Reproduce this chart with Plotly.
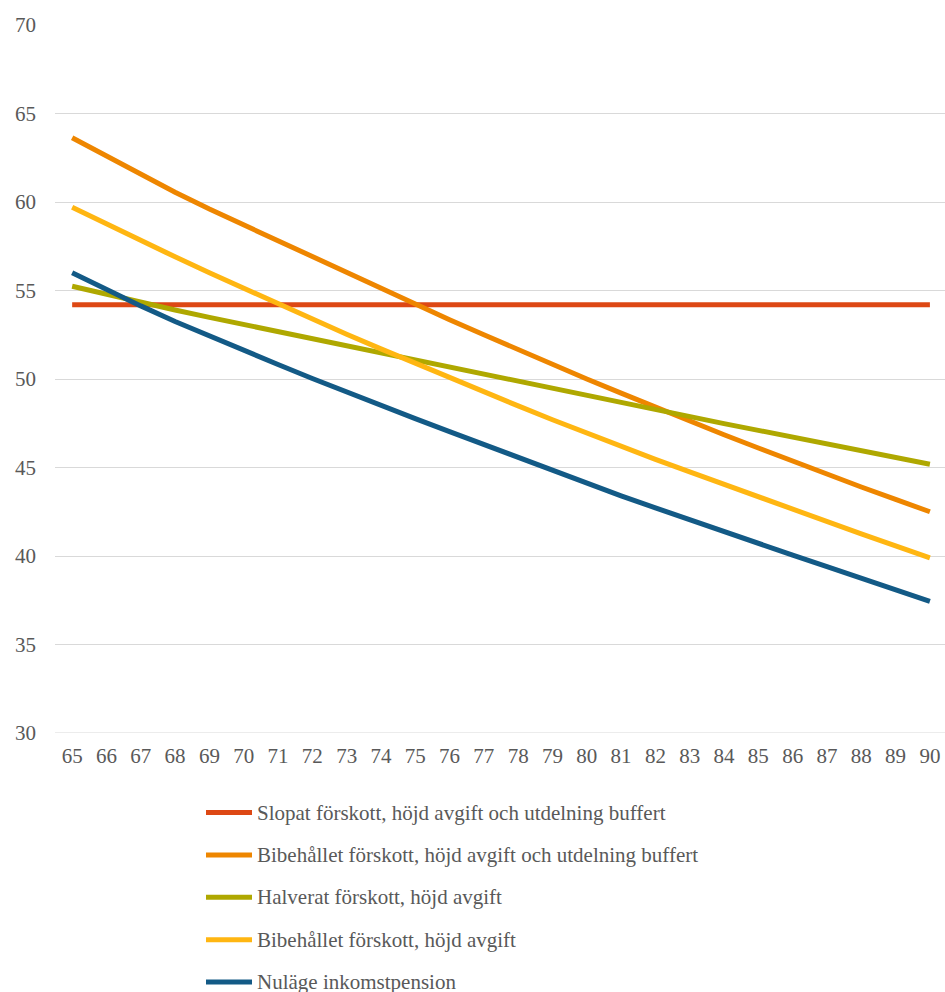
import plotly.graph_objects as go

# Age (years) on the horizontal axis
ages = list(range(65, 91))

series_names = [
    "Slopat förskott, höjd avgift och utdelning buffert",
    "Bibehållet förskott, höjd avgift och utdelning buffert",
    "Halverat förskott, höjd avgift",
    "Bibehållet förskott, höjd avgift",
    "Nuläge inkomstpension",
]

slopat = [54.2] * 26

bibehallet_buffert = [63.63, 62.58, 61.55, 60.55, 59.6, 58.7, 57.8, 56.9, 56.0, 55.1,
                      54.2, 53.35, 52.5, 51.65, 50.8, 50.0, 49.2, 48.4, 47.6, 46.85,
                      46.1, 45.35, 44.6, 43.9, 43.2, 42.5]

halverat = [55.24, 54.78, 54.33, 53.9, 53.48, 53.08, 52.68, 52.27, 51.86, 51.45,
            51.04, 50.63, 50.22, 49.82, 49.41, 49.01, 48.62, 48.24, 47.86, 47.48,
            47.1, 46.72, 46.35, 45.97, 45.58, 45.18]

bibehallet_avgift = [59.7, 58.75, 57.82, 56.9, 56.0, 55.12, 54.24, 53.38, 52.53, 51.7,
                     50.88, 50.07, 49.27, 48.48, 47.7, 46.94, 46.19, 45.46, 44.75, 44.04,
                     43.33, 42.63, 41.94, 41.25, 40.57, 39.9]

nulage = [56.0, 55.05, 54.13, 53.25, 52.42, 51.62, 50.82, 50.03, 49.25, 48.5,
          47.76, 47.03, 46.3, 45.57, 44.84, 44.1, 43.4, 42.72, 42.04, 41.36,
          40.7, 40.05, 39.4, 38.75, 38.09, 37.43]

series_values = [slopat, bibehallet_buffert, halverat, bibehallet_avgift, nulage]
colors = ["#DD4814", "#EE8600", "#AFA800", "#FFB612", "#135A86"]

y_ticks = [30, 35, 40, 45, 50, 55, 60, 65, 70]

FONT = "Liberation Serif, Times New Roman, serif"
TEXT = "#595959"
FS = 21

# plot area in pixels (used for placing the legend below the axes)
PL, PT, PB, PW = 55, 24.5, 733.3, 890
PH = PB - PT

fig = go.Figure()
for name, vals, col in zip(series_names, series_values, colors):
    fig.add_trace(go.Scatter(
        x=ages, y=vals, name=name, mode="lines",
        line=dict(color=col, width=5), showlegend=False,
    ))

# bottom gridline at the axis minimum
fig.add_shape(type="line", xref="x domain", yref="y", x0=0, x1=1, y0=30, y1=30,
              line=dict(color="#D9D9D9", width=1.2), layer="below")

# Legend drawn below the plot: short line swatch plus label per series
legend_x0, legend_x1, text_x = 206, 252, 255
legend_y0, legend_step = 813, 42.4
for i, (name, col) in enumerate(zip(series_names, colors)):
    yc = legend_y0 + i * legend_step
    yp = (PB - yc) / PH
    fig.add_shape(type="line", xref="x domain", yref="paper",
                  x0=(legend_x0 - PL) / PW, x1=(legend_x1 - PL) / PW,
                  y0=yp, y1=yp, line=dict(color=col, width=5))
    fig.add_annotation(text=name, xref="x domain", yref="paper",
                       x=(text_x - PL) / PW, y=yp,
                       xanchor="left", yanchor="middle", showarrow=False,
                       font=dict(family=FONT, size=FS, color=TEXT))

fig.update_layout(
    width=945, height=992,
    margin=dict(l=PL, r=0, t=PT, b=992 - PB, pad=0),
    paper_bgcolor="white", plot_bgcolor="white",
    font=dict(family=FONT, size=FS, color=TEXT),
)
fig.update_xaxes(
    range=[64.5, 90.44], tickmode="array", tickvals=ages,
    ticktext=[str(a) for a in ages], showgrid=False, zeroline=False,
    showline=False, ticks="", ticklabelstandoff=8,
    tickfont=dict(family=FONT, size=FS, color=TEXT),
)
fig.update_yaxes(
    range=[30, 70], tickmode="array", tickvals=y_ticks,
    showgrid=True, gridcolor="#D9D9D9", gridwidth=1.2, zeroline=False,
    showline=False, ticks="", ticklabelstandoff=18,
    tickfont=dict(family=FONT, size=FS, color=TEXT),
)

fig.write_html("out.html")
